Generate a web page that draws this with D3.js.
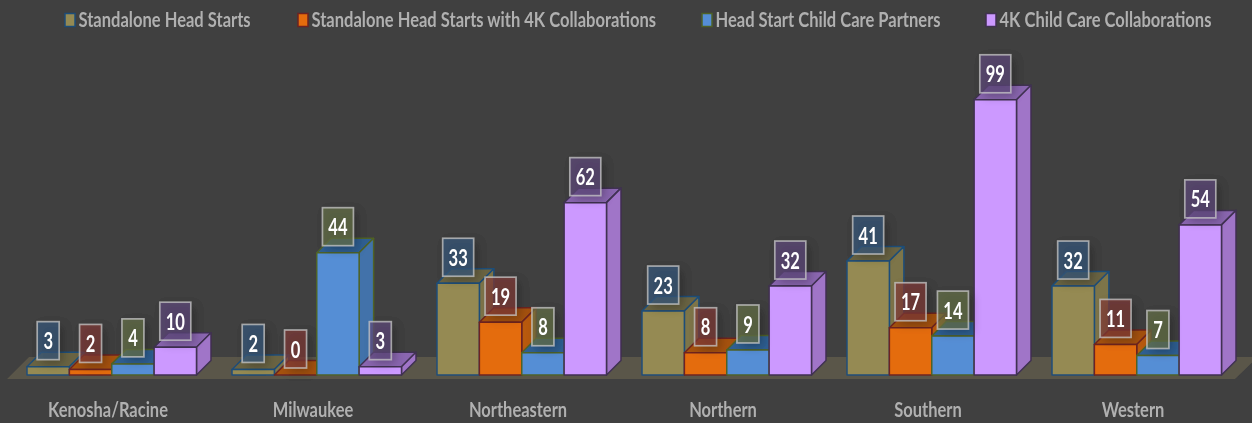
<!DOCTYPE html>
<html><head><meta charset="utf-8">
<script src="https://cdn.jsdelivr.net/npm/d3@7"></script>
<style>
html,body{margin:0;padding:0;background:#3f3f3f;overflow:hidden}
svg{display:block}
text{font-family:Lato,"Open Sans",sans-serif}
</style></head><body><svg id="c" width="1252" height="423"></svg>
<script>
const categories=["Kenosha/Racine","Milwaukee","Northeastern","Northern","Southern","Western"];
const seriesNames=["Standalone Head Starts","Standalone Head Starts with 4K Collaborations","Head Start Child Care Partners","4K Child Care Collaborations"];
const standalone=[3,2,33,23,41,32];
const standalone4K=[2,0,19,8,17,11];
const partners=[4,44,8,9,14,7];
const collaborations=[10,3,62,32,99,54];
const seriesValues=[standalone,standalone4K,partners,collaborations];
const frontColors=["#958a52","#e46c0a","#558ed5","#cc99ff"];
const sideColors=["#7d7448","#b85a0c","#4272aa","#a074c8"];
const topColors=["#6a6443","#a5520e","#2f5f92","#8a66b0"];
const strokeColors=["#1f4e79","#6e2420","#4f6228","#403152"];
const labelColors=["#385a7e","#813b38","#667249","#604a7d"];
const legendX=[65,298,702,986];

const W=1252,H=423,baseY=375,depth=14.5;
const svg=d3.select("#c");
const defs=svg.append("defs");
defs.append("filter").attr("id","soft")
  .attr("filterUnits","userSpaceOnUse").attr("x",0).attr("y",0).attr("width",W).attr("height",H)
  .append("feGaussianBlur").attr("stdDeviation",0.7);
const sh=defs.append("filter").attr("id","shadow").attr("x","-60%").attr("y","-60%").attr("width","220%").attr("height","220%");
sh.append("feGaussianBlur").attr("stdDeviation",5);
const root=svg.append("g").attr("filter","url(#soft)");
root.append("rect").attr("width",W).attr("height",H).attr("fill","#3f3f3f");

const x0=d3.scaleBand().domain(categories).range([-2.5,1227.5]);
const x1=d3.scaleBand().domain(d3.range(4)).range([29.5,199]);
const y=d3.scaleLinear().domain([0,100]).range([baseY,baseY-278]);

root.append("polygon").attr("points",[[7,379],[1235,379],[1258,357],[29,357]].join(" ")).attr("fill","#5a5649");

const rows=[];
categories.forEach((c,i)=>seriesValues.forEach((vals,s)=>rows.push({c,i,s,v:vals[i]})));
const bw=x1.bandwidth();
const gx=d=>x0(d.c)+x1(d.s);

const bars=root.append("g").selectAll("g").data(rows).join("g")
  .attr("stroke",d=>strokeColors[d.s]).attr("stroke-width",1.5).attr("stroke-linejoin","round");
bars.append("polygon").attr("fill",d=>topColors[d.s]).attr("points",d=>{const a=gx(d),t=y(d.v);
  return [[a,t],[a+bw,t],[a+bw+depth,t-depth],[a+depth,t-depth]].join(" ");});
bars.append("polygon").attr("fill",d=>sideColors[d.s]).attr("points",d=>{const a=gx(d)+bw,t=y(d.v);
  return [[a,t],[a+depth,t-depth],[a+depth,baseY-depth],[a,baseY]].join(" ");});
bars.append("rect").attr("fill",d=>frontColors[d.s]).attr("x",gx).attr("y",d=>y(d.v)).attr("width",bw).attr("height",d=>baseY-y(d.v));

const lw=d=>String(d.v).length>1?31:22, lh=38, gap=7;
const labels=root.append("g").selectAll("g").data(rows).join("g");
labels.append("rect").attr("x",d=>gx(d)+bw/2-lw(d)/2+4).attr("y",d=>y(d.v)-gap-lh+4).attr("width",lw).attr("height",lh)
  .attr("fill","#000").attr("opacity",.25).attr("filter","url(#shadow)");
labels.append("rect").attr("x",d=>gx(d)+bw/2-lw(d)/2).attr("y",d=>y(d.v)-gap-lh).attr("width",lw).attr("height",lh)
  .attr("fill",d=>labelColors[d.s]).attr("fill-opacity",.7).attr("stroke","#c8c8c8").attr("stroke-opacity",.75).attr("stroke-width",1.7);
labels.append("text").attr("text-anchor","middle").attr("dominant-baseline","central")
  .attr("transform",d=>`translate(${gx(d)+bw/2},${y(d.v)-gap-lh/2}) scale(.92,1.25)`)
  .attr("font-size",18).attr("font-weight",700).attr("fill","#fff").text(d=>d.v);

const axisG=root.append("g").attr("transform",`translate(8,${baseY})`)
  .call(d3.axisBottom(x0).tickSize(0).tickPadding(0));
axisG.select(".domain").remove();
axisG.selectAll(".tick text").attr("fill","#b0b0b0").attr("font-size",16.5).attr("font-weight",700)
  .attr("text-anchor","middle").attr("dy",0).attr("y",0)
  .attr("transform","translate(0,42) scale(1,1.25)").style("font-family","Lato");

const leg=root.append("g").selectAll("g").data(seriesNames).join("g")
  .attr("transform",(d,i)=>`translate(${legendX[i]},20)`);
leg.append("rect").attr("x",0).attr("y",-6.5).attr("width",10).attr("height",13)
  .attr("fill",(d,i)=>frontColors[i]).attr("stroke",(d,i)=>strokeColors[i]).attr("stroke-width",1.5);
leg.append("text").attr("dominant-baseline","central").attr("transform","translate(13.5,-0.5) scale(1.003,1.25)")
  .attr("font-size",16.5).attr("font-weight",700).attr("fill","#b0b0b0").text(d=>d);
</script></body></html>
